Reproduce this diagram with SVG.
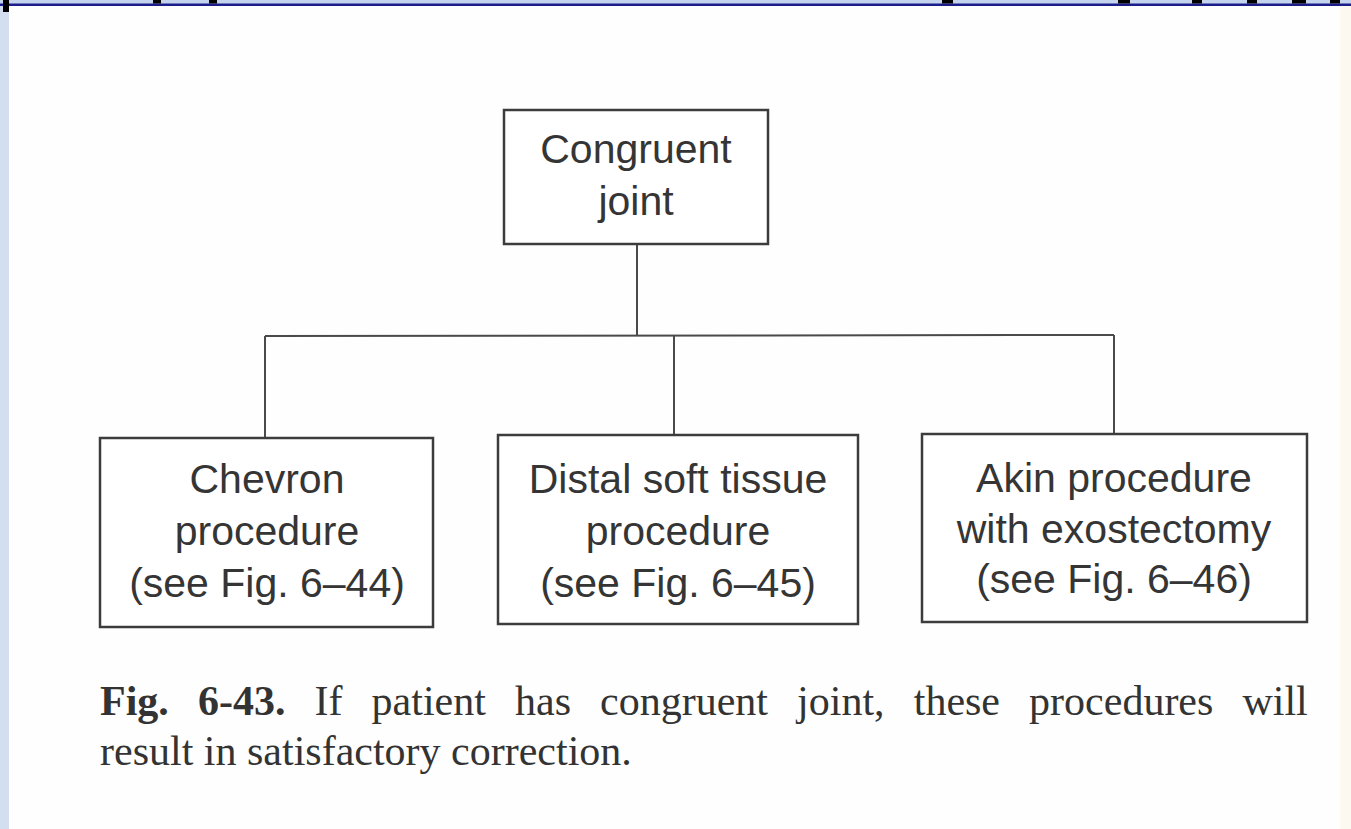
<svg xmlns="http://www.w3.org/2000/svg" width="1351" height="829" viewBox="0 0 1351 829">
<style>
.box{fill:#ffffff;stroke:#3c3c3c;stroke-width:2.5}
.lbl{font-family:"Liberation Sans",Arial,sans-serif;font-size:41px;fill:#353535;text-anchor:middle}
.conn{stroke:#4a4a4a;stroke-width:2;fill:none}
.cap{font-family:"Liberation Serif","Times New Roman",serif;font-size:42px;fill:#333}
.mark{fill:#000}
</style>
<rect x="0" y="0" width="1351" height="829" fill="#fefefe"/>
<rect x="0" y="0" width="1351" height="4" fill="#c5d4ee"/>
<rect x="0" y="3.5" width="1351" height="2.5" fill="#1c1c8a"/>
<rect x="0" y="6" width="9" height="823" fill="#d3dff0"/>
<rect x="1340" y="6" width="11" height="823" fill="#fbf9f0"/>
<g id="top-marks">
<rect class="mark" x="3" y="0" width="6" height="12"/>
<rect class="mark" x="153" y="0" width="8" height="3.5"/>
<rect class="mark" x="209" y="0" width="8" height="3.5"/>
<rect class="mark" x="942" y="0" width="11" height="3.5"/>
<rect class="mark" x="1118" y="0" width="12" height="3.5"/>
<rect class="mark" x="1192" y="0" width="10" height="3.5"/>
<rect class="mark" x="1247" y="0" width="10" height="3.5"/>
<rect class="mark" x="1292" y="0" width="14" height="3.5"/>
<rect class="mark" x="1330" y="0" width="10" height="3.5"/>
</g>
<g id="connectors">
<line class="conn" x1="637" y1="244" x2="637" y2="336"/>
<line class="conn" x1="265" y1="336" x2="1114" y2="335"/>
<line class="conn" x1="265" y1="336" x2="265" y2="438"/>
<line class="conn" x1="674" y1="336" x2="674" y2="435"/>
<line class="conn" x1="1114" y1="335" x2="1114" y2="434"/>
</g>
<g id="congruent">
<rect class="box" x="504" y="110" width="264" height="134"/>
<text class="lbl" x="636" y="163">Congruent</text>
<text class="lbl" x="636" y="215">joint</text>
</g>
<g id="chevron">
<rect class="box" x="100" y="438" width="333" height="189"/>
<text class="lbl" x="267" y="493">Chevron</text>
<text class="lbl" x="267" y="545">procedure</text>
<text class="lbl" x="267" y="597">(see Fig. 6–44)</text>
</g>
<g id="distal">
<rect class="box" x="498" y="435" width="360" height="189"/>
<text class="lbl" x="678" y="493">Distal soft tissue</text>
<text class="lbl" x="678" y="545">procedure</text>
<text class="lbl" x="678" y="597">(see Fig. 6–45)</text>
</g>
<g id="akin">
<rect class="box" x="922" y="434" width="385" height="188"/>
<text class="lbl" x="1114" y="492">Akin procedure</text>
<text class="lbl" x="1114" y="543">with exostectomy</text>
<text class="lbl" x="1114" y="593">(see Fig. 6–46)</text>
</g>
<g id="caption">
<text class="cap" x="100" y="715" style="word-spacing:18.6px"><tspan font-weight="bold">Fig. 6-43.</tspan> If patient has congruent joint, these procedures will</text>
<text class="cap" x="100" y="765">result in satisfactory correction.</text>
</g>
</svg>
